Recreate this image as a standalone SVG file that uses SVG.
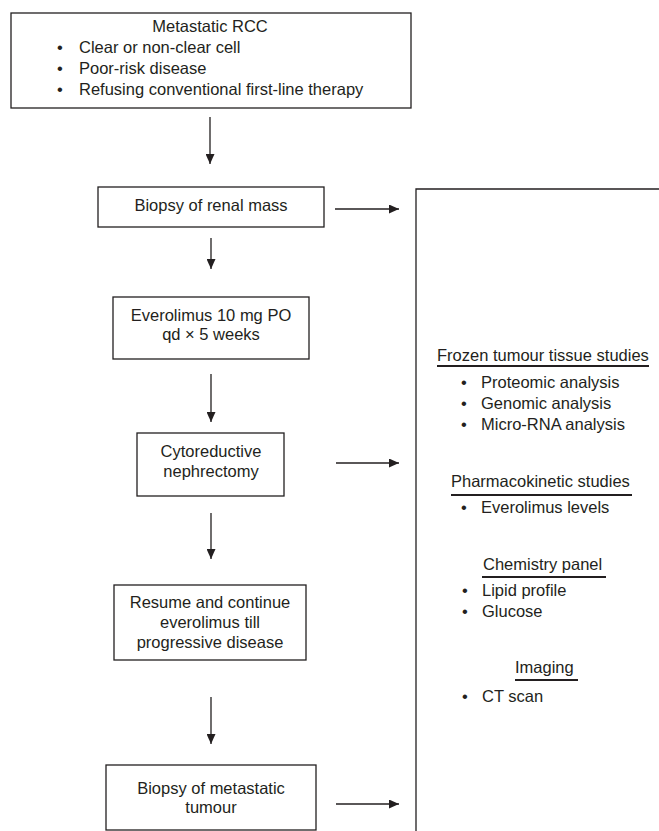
<svg xmlns="http://www.w3.org/2000/svg" width="659" height="831" viewBox="0 0 659 831">
<style>
text{font-family:"Liberation Sans",Arial,sans-serif;font-size:16.5px;fill:#231f20}
.c{text-anchor:middle}
.box{fill:#fff;stroke:#231f20;stroke-width:1.3}
.ln{stroke:#231f20;stroke-width:1.3;fill:none}
.ul{stroke:#231f20;stroke-width:2;fill:none}
</style>
<defs>
<marker id="ah" markerUnits="userSpaceOnUse" markerWidth="10" markerHeight="9" refX="10" refY="4.5" orient="auto">
<path d="M0,0 L10,4.5 L0,9 z" fill="#231f20"/>
</marker>
</defs>
<rect width="659" height="831" fill="#fff"/>
<g id="connectors">
<line class="ln" x1="210" y1="117" x2="210" y2="164" marker-end="url(#ah)"/>
<line class="ln" x1="211" y1="238" x2="211" y2="269" marker-end="url(#ah)"/>
<line class="ln" x1="211" y1="374" x2="211" y2="422" marker-end="url(#ah)"/>
<line class="ln" x1="211" y1="513" x2="211" y2="559" marker-end="url(#ah)"/>
<line class="ln" x1="211" y1="697" x2="211" y2="744" marker-end="url(#ah)"/>
<line class="ln" x1="335" y1="209" x2="399" y2="209" marker-end="url(#ah)"/>
<line class="ln" x1="336" y1="463" x2="399" y2="463" marker-end="url(#ah)"/>
<line class="ln" x1="336" y1="804" x2="399" y2="804" marker-end="url(#ah)"/>
</g>
<g id="n-metastatic">
<rect class="box" x="11" y="13" width="400" height="95"/>
<text class="c" x="210" y="32">Metastatic RCC</text>
<text x="57" y="53">•</text><text x="79" y="53">Clear or non-clear cell</text>
<text x="57" y="74">•</text><text x="79" y="74">Poor-risk disease</text>
<text x="57" y="95">•</text><text x="79" y="95">Refusing conventional first-line therapy</text>
</g>
<g id="n-biopsy-renal">
<rect class="box" x="98" y="187" width="226" height="40"/>
<text class="c" x="211" y="211">Biopsy of renal mass</text>
</g>
<g id="n-everolimus">
<rect class="box" x="113" y="297" width="196" height="62"/>
<text class="c" x="211" y="321">Everolimus 10 mg PO</text>
<text class="c" x="211" y="340">qd × 5 weeks</text>
</g>
<g id="n-nephrectomy">
<rect class="box" x="137" y="433" width="147" height="63"/>
<text class="c" x="211" y="457">Cytoreductive</text>
<text class="c" x="211" y="477">nephrectomy</text>
</g>
<g id="n-resume">
<rect class="box" x="114" y="585" width="192" height="75"/>
<text class="c" x="210" y="608">Resume and continue</text>
<text class="c" x="210" y="628">everolimus till</text>
<text class="c" x="210" y="648">progressive disease</text>
</g>
<g id="n-biopsy-met">
<rect class="box" x="106" y="765" width="210" height="65"/>
<text class="c" x="211" y="794">Biopsy of metastatic</text>
<text class="c" x="211" y="813">tumour</text>
</g>
<g id="n-studies">
<path class="ln" d="M659,189 H416 V831"/>
<text x="437" y="361">Frozen tumour tissue studies</text>
<line class="ul" x1="437" y1="366" x2="649" y2="366"/>
<text x="461" y="388">•</text><text x="481" y="388">Proteomic analysis</text>
<text x="461" y="409">•</text><text x="481" y="409">Genomic analysis</text>
<text x="461" y="430">•</text><text x="481" y="430">Micro-RNA analysis</text>
<text x="451" y="487">Pharmacokinetic studies</text>
<line class="ul" x1="451" y1="495" x2="632" y2="495"/>
<text x="461" y="513">•</text><text x="481" y="513">Everolimus levels</text>
<text x="483" y="570">Chemistry panel</text>
<line class="ul" x1="482" y1="577" x2="606" y2="577"/>
<text x="462" y="596">•</text><text x="482" y="596">Lipid profile</text>
<text x="462" y="617">•</text><text x="482" y="617">Glucose</text>
<text x="515" y="673">Imaging</text>
<line class="ul" x1="515" y1="680" x2="578" y2="680"/>
<text x="462" y="702">•</text><text x="482" y="702">CT scan</text>
</g>
</svg>
